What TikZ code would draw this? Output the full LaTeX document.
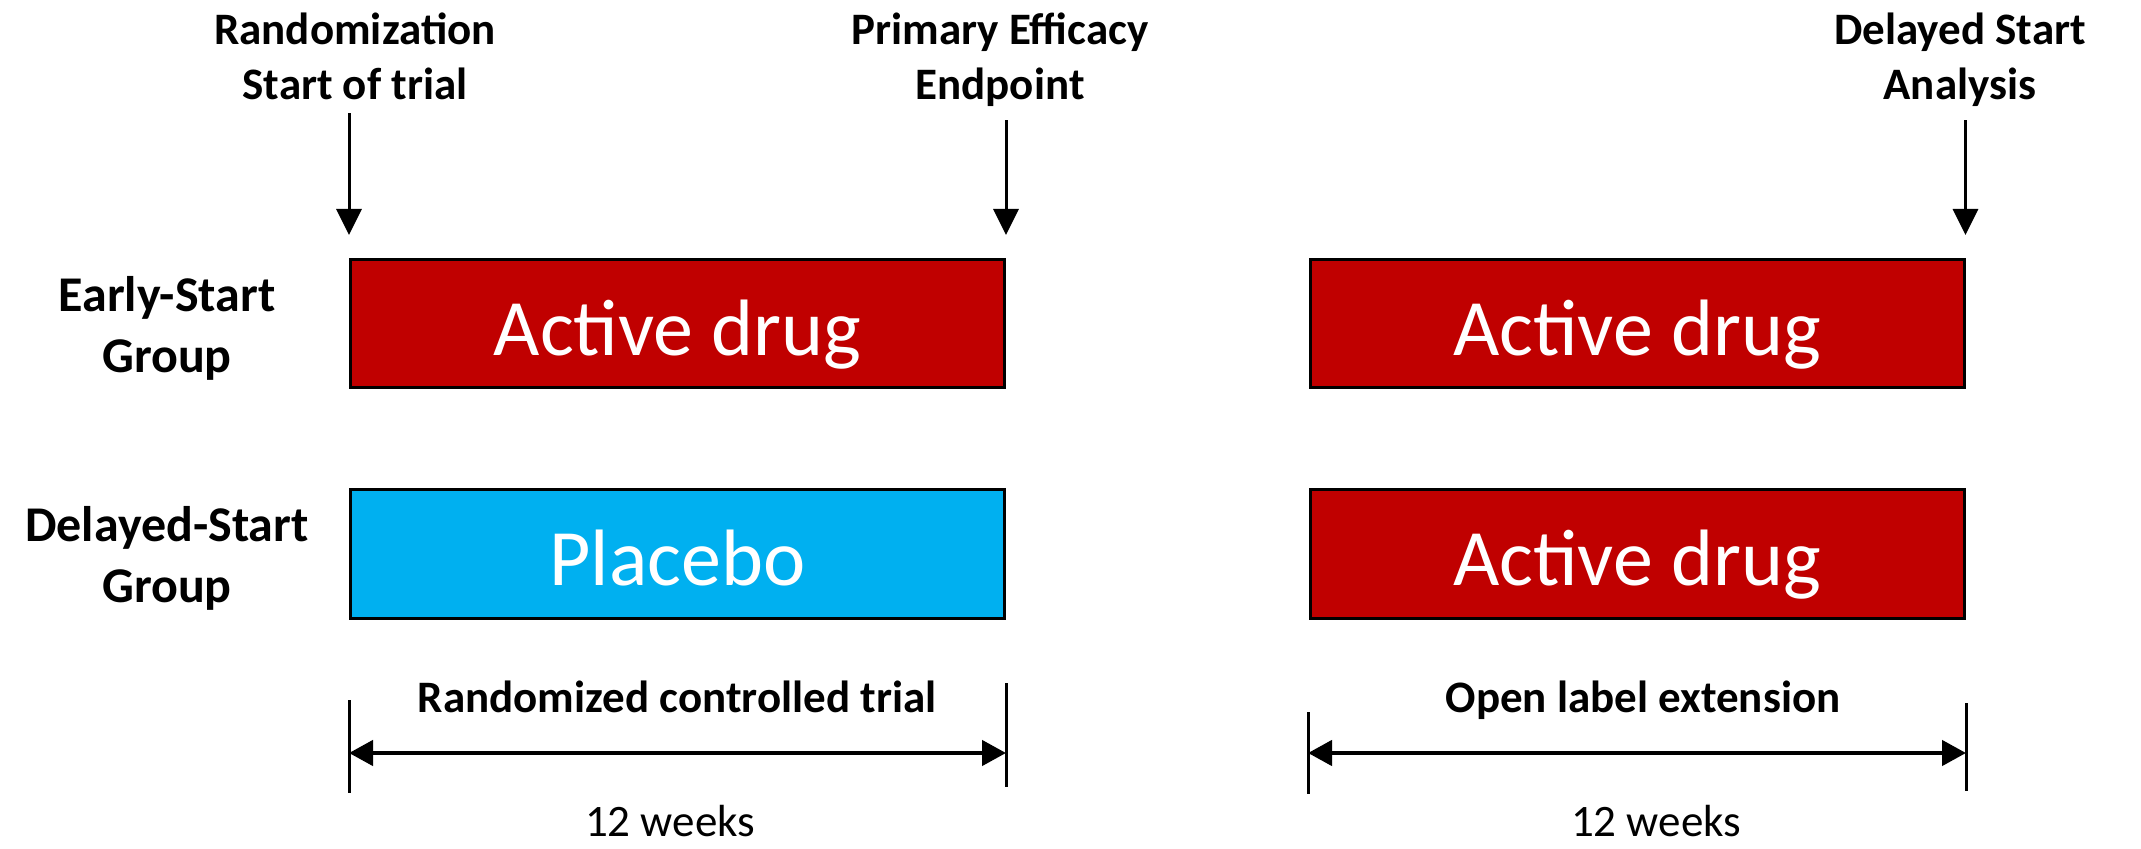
\documentclass[tikz,border=0pt]{standalone}
\usepackage{fontspec}
\setmainfont{Carlito}
\usetikzlibrary{arrows.meta}

\definecolor{drugred}{HTML}{C00000}
\definecolor{placeboblue}{HTML}{00B0F0}

\tikzset{
  arm/.style={draw=black, line width=1.5pt, minimum width=327pt, minimum height=64pt,
    text=white, font=\fontsize{40}{48}\selectfont, text height=32pt, text depth=0pt},
  toplabel/.style={align=center, anchor=base, font=\bfseries\fontsize{22.5}{27.5}\selectfont},
  grouplabel/.style={align=center, anchor=base, font=\bfseries\fontsize{25}{30.5}\selectfont},
  weeks/.style={anchor=base, inner sep=0pt, font=\fontsize{22.5}{27}\selectfont},
  pointer/.style={-{Triangle[width=12.5pt,length=13pt]}, line width=1.5pt,
    shorten <=3pt, shorten >=11.5pt},
  span/.style={{Triangle[width=12.5pt,length=12pt]}-{Triangle[width=12.5pt,length=12pt]},
    line width=2.25pt},
  tick/.style={line width=1.5pt},
}

\begin{document}
\begin{tikzpicture}[x=0.5pt, y=-0.5pt]
  \useasboundingbox (0,0) rectangle (2141,849);
  % treatment arms
  \node[arm, fill=drugred] (es1) at (677.5,323.5) {Active drug};
  \node[arm, fill=placeboblue] (pl) at (677.5,554) {Placebo};
  \node[arm, fill=drugred] (es2) at (1637,323.5) {Active drug};
  \node[arm, fill=drugred] (ds2) at (1637,554) {Active drug};
  % group names (anchored at last line)
  \node[grouplabel] (esg) at (167,373) {Early-Start\\Group};
  \node[grouplabel] (dsg) at (167,603) {Delayed-Start\\Group};
  % time points
  \node[toplabel] (rand) at (355,100) {Randomization\\Start of trial};
  \node[toplabel] (pee) at (1000,100) {Primary Efficacy\\Endpoint};
  \node[toplabel] (dsa) at (1960,100) {Delayed Start\\Analysis};
  \draw[pointer] (rand.south -| es1.north west) -- (es1.north west);
  \draw[pointer] (pee.south -| es1.north east) -- (es1.north east);
  \draw[pointer] (dsa.south -| es2.north east) -- (es2.north east);
  % periods
  \node[toplabel] (rct) at (677,712) {Randomized controlled trial};
  \node[toplabel] (ole) at (1643,712) {Open label extension};
  \node[weeks] (w1) at (670,836) {12 weeks};
  \node[weeks] (w2) at (1656,836) {12 weeks};
  \foreach \x/\a/\b in {349/700/793, 1006/683/787, 1308/712/794, 1966/703/791}
    \draw[tick] (\x,\a) -- (\x,\b);
  \coordinate (rctL) at (349,753);
  \coordinate (rctR) at (1006,753);
  \coordinate (oleL) at (1308,753);
  \coordinate (oleR) at (1966,753);
  \draw[span] (rctL) -- (rctR);
  \draw[span] (oleL) -- (oleR);
\end{tikzpicture}
\end{document}
